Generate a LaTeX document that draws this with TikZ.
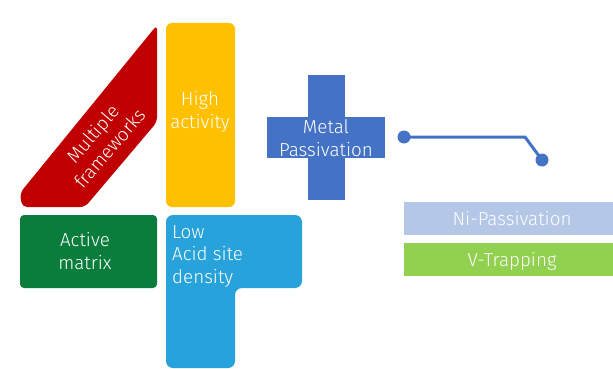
\documentclass[tikz,border=0pt]{standalone}
\usepackage{fontspec}
\setmainfont{Fira Sans Light}
\definecolor{fwred}{HTML}{C00000}
\definecolor{actyellow}{HTML}{FFC000}
\definecolor{matgreen}{HTML}{0A7D3C}
\definecolor{acidblue}{HTML}{27A2DA}
\definecolor{metblue}{HTML}{4472C4}
\definecolor{niblue}{HTML}{B4C7E7}
\definecolor{vgreen}{HTML}{92D050}
\begin{document}
\begin{tikzpicture}[x=1pt, y=-1pt, every node/.style={text=white, font=\fontsize{18.8}{22.5}\selectfont, align=center, inner sep=0pt}]
	\useasboundingbox (0,0) rectangle (613,369);
	
	% 红色斜块
	\fill[fwred, rounded corners=5pt] (157,25) -- (157,122) -- (85,207) -- (22,207) -- (20,193) -- cycle;
	\node[rotate=49] (frameworks) at (101,141) {Multiple\\frameworks};
	
	% 黄色竖条
	\fill[actyellow, rounded corners=6pt] (166,207) -- (166,23) -- (235,23) -- (235,207) -- cycle;
	\node (activity) at (200,112) {High\\activity};
	
	% 绿色块
	\fill[matgreen, rounded corners=4pt] (20,215) rectangle (157,288);
	\node (matrix) at (85,251) {Active\\matrix};
	
	% 蓝色L形
	\fill[acidblue, rounded corners=7pt] (166,215) -- (302,215) -- (302,288) -- (235,288) -- (235,368) -- (166,368) -- cycle;
	\node[align=left, anchor=north west] (acid) at (172,225) {Low\\Acid site\\density};
	
	% 十字
	\fill[metblue] (308,75) rectangle (345,200);
	\fill[metblue] (267,117) rectangle (385,158);
	\node (metal) at (326,138) {Metal\\Passivation};
	
	% 连线
	\coordinate (start) at (404,137);
	\coordinate (bend) at (525,137);
	\coordinate (stop) at (542,160);
	\draw[metblue, line width=3pt] (start) -- (bend) -- (stop);
	\fill[metblue] (start) circle (6.5pt);
	\fill[metblue] (stop) circle (6.5pt);
	
	% 两条横栏
	\fill[niblue] (404,202) rectangle (613,235);
	\node (ni) at (512,219) {Ni-Passivation};
	\fill[vgreen] (404,243) rectangle (613,276);
	\node (vtrap) at (512,261) {V-Trapping};
\end{tikzpicture}
\end{document}
